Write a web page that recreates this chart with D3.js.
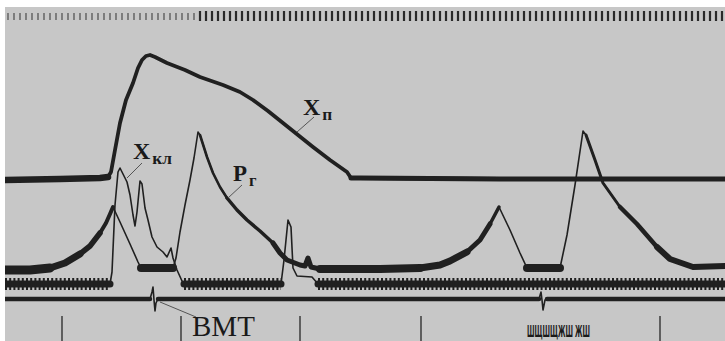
<!DOCTYPE html>
<html>
<head>
<meta charset="utf-8">
<script src="https://cdn.jsdelivr.net/npm/d3@7"></script>
<style>
  body { margin: 0; background: #fff; }
  svg { display: block; }
</style>
</head>
<body>
<svg id="chart" width="725" height="341"></svg>
<script>
// time in ms along the record
var xpT = [0, 27.5, 47.5, 51.5, 53, 55, 57.5, 60.5, 64, 66.5, 68.5, 70.5, 72.5, 75, 81, 90, 97.5, 109, 117.5, 124, 131.5, 139, 146.5, 154, 162.5, 171, 173, 177.5, 247.5, 360];
var xpV = [0, 0.8, 1.6, 2.4, 6.4, 24, 45.6, 64, 77.6, 89.6, 96, 99.2, 100, 98.4, 93.6, 88, 82.4, 76, 70.4, 64, 55.2, 45.6, 36, 26.4, 16, 6.4, 1.6, 1.6, 0.8, 0.8];

var pgT = [0, 12.5, 22.5, 30, 37.5, 42.5, 47.5, 50.5, 52.5, 54, 57.5, 62.5, 66.5, 68, 72.5, 84, 85.5, 87.5, 90, 92.5, 94.5, 96.5, 97.5, 101, 104, 107.5, 111, 116, 121, 127.5, 134, 137.5, 141, 147.5, 150, 151.5, 153, 157.5, 187.5, 207.5, 217.5, 222.5, 231, 237.5, 242.5, 247, 252.5, 257.5, 261, 270, 277.5, 281, 285, 289, 290.5, 295, 299, 307.5, 316, 326, 332.5, 344, 360];
var pgV = [0, 0, 2, 7, 16, 24, 37, 47, 56, 63, 48, 26, 8, 2, 2, 2, 12, 38, 65, 90, 112, 138, 135, 113, 97, 83, 72, 60, 50, 39, 27, 17, 10, 5, 4, 12, 3, 1, 1, 2, 5, 9, 18, 30, 46, 63, 40, 17, 2, 2, 2, 35, 85, 139, 135, 110, 87, 63, 46, 23, 11, 3, 4];

var xklT = [0, 52.5, 53.5, 55, 56.5, 57.5, 59, 61, 62.5, 64, 65, 66, 67.5, 68.5, 70, 71.5, 73.5, 76, 79, 81, 83, 84, 86, 88.5, 89.5, 138, 139.5, 141.5, 143, 144, 146, 153.5, 156.5, 360];
var xklV = [0, 0, 12, 79, 112, 116, 110, 102, 89, 69, 58, 72, 103, 100, 76, 64, 47, 37, 32, 27, 36, 26, 14, 3, 0, 0, 24, 64, 57, 16, 8, 7, 0, 0];

var vmtT = [0, 72.5, 73.5, 74, 74.5, 75, 75.5, 76.5, 267, 268, 268.5, 269, 270, 271, 360];
var vmtV = [0, 0, 7, 12, -1, -12, -4, 0, 0, 7, -1, -11, -1, 0, 0];

// crank angle marks at the bottom
var crankMarks = [28.5, 88, 147.5, 208, 327.5];
// timer marks on the top track
var timerStep = 3;

function zip(t, v) { return t.map(function(d, i) { return {t: d, v: v[i]}; }); }
var xp = zip(xpT, xpV), pg = zip(pgT, pgV), xkl = zip(xklT, xklV), vmt = zip(vmtT, vmtV);

var svg = d3.select("#chart");
var ink = "#202020";

// paper
svg.append("clipPath").attr("id", "paper")
  .append("rect").attr("x", 5).attr("y", 7).attr("width", 720).attr("height", 334);
svg.append("rect").attr("x", 5).attr("y", 7).attr("width", 720).attr("height", 334).attr("fill", "#c7c7c7");
var plot = svg.append("g").attr("clip-path", "url(#paper)");

var x = d3.scaleLinear().domain([0, 360]).range([5, 725]);
var yXp = d3.scaleLinear().domain([0, 100]).range([180, 55]);
var yPg = d3.scaleLinear().domain([0, 140]).range([270, 130]);
var yXkl = d3.scaleLinear().domain([0, 120]).range([284, 164]);
var yVmt = d3.scaleLinear().domain([-15, 15]).range([314, 284]);

function lineFor(y) {
    return d3.line().x(function(d) { return x(d.t); }).y(function(d) { return y(d.v); });
}
function win(data, a, b) { return data.filter(function(d) { return d.t >= a && d.t <= b; }); }

function trace(data, y, w, extra) {
    var p = plot.append("path").datum(data)
        .attr("fill", "none").attr("stroke", ink)
        .attr("stroke-width", w)
        .attr("stroke-linejoin", "round")
        .attr("stroke-linecap", "round")
        .attr("d", lineFor(y));
    if (extra) extra(p);
    return p;
}

// top timer track
var timer = d3.range(1.5, 360, timerStep);
plot.append("g").selectAll("line").data(timer).enter().append("line")
    .attr("x1", function(d) { return x(d); }).attr("x2", function(d) { return x(d); })
    .attr("y1", function(d) { return d < 95 ? 13 : 11; })
    .attr("y2", function(d) { return d < 95 ? 20 : 21; })
    .attr("stroke", function(d) { return d < 95 ? "#6a6a6a" : "#2a2a2a"; })
    .attr("stroke-width", function(d) { return d < 95 ? 1.6 : 2.2; });

// X_п
trace(xp, yXp, 3.8);
trace(win(xp, 0, 51.5), yXp, 6.5);
trace(win(xp, 173, 360), yXp, 5);

// X_кл with ripple on its rest level
trace(xkl, yXkl, 1.6);
[[0, 52.5], [89.5, 138], [156.5, 360]].forEach(function(r) {
    trace(win(xkl, r[0], r[1]), yXkl, 7);
    trace(win(xkl, r[0], r[1]), yXkl, 12, function(p) { p.attr("stroke-dasharray", "2 2.2").attr("stroke-linecap", "butt"); });
});

// P_г, thicker where the beam moved slowly
trace(pg, yPg, 1.6);
[[0, 22.5, 9], [22.5, 37.5, 7], [37.5, 47.5, 5.5], [47.5, 54, 4], [68, 84, 8], [97.5, 111, 2.6], [111, 134, 3.5], [134, 157.5, 5],
 [157.5, 207.5, 8], [207.5, 231, 7], [231, 242.5, 5], [242.5, 247, 3.5], [261, 277.5, 8], [290.5, 307.5, 3], [307.5, 326, 4.5], [326, 360, 6]]
    .forEach(function(r) { trace(win(pg, r[0], r[1]), yPg, r[2]); });

// ВМТ
trace(vmt, yVmt, 1.6);
trace(win(vmt, 0, 72.5), yVmt, 4.5);
trace(win(vmt, 76.5, 267), yVmt, 4.5);
trace(win(vmt, 271, 360), yVmt, 4.5);

// crank marks
plot.append("g").selectAll("line").data(crankMarks).enter().append("line")
    .attr("x1", function(d) { return x(d); }).attr("x2", function(d) { return x(d); })
    .attr("y1", 316).attr("y2", 341)
    .attr("stroke", "#333").attr("stroke-width", 1.4);

// smudged stamp near the bottom
svg.append("text").attr("x", 527).attr("y", 337)
    .attr("font-family", "DejaVu Sans").attr("font-weight", "bold").attr("font-size", 15)
    .attr("textLength", 63).attr("lengthAdjust", "spacingAndGlyphs")
    .attr("fill", "#1a1a1a").text("ШЩШЩЖШ ЖШ");

// labels with leader lines
var leaders = [[297, 132, 314, 117], [127, 178, 142, 163], [228, 198, 242, 185], [160, 302, 196, 317]];
svg.append("g").selectAll("line").data(leaders).enter().append("line")
    .attr("x1", function(d) { return d[0]; }).attr("y1", function(d) { return d[1]; })
    .attr("x2", function(d) { return d[2]; }).attr("y2", function(d) { return d[3]; })
    .attr("stroke", "#555").attr("stroke-width", 1);

function label(px, py, main, sub, size) {
    var t = svg.append("text").attr("x", px).attr("y", py)
        .attr("font-family", "Liberation Serif").attr("font-weight", "bold")
        .attr("font-size", size).attr("fill", "#1a1a1a");
    t.append("tspan").text(main);
    t.append("tspan").attr("font-size", size * 0.72).attr("dx", 2).attr("dy", 5).text(sub);
}
label(303, 115, "X", "п", 24);
label(133, 159, "X", "кл", 24);
label(233, 181, "P", "г", 23);

svg.append("text").attr("x", 192).attr("y", 336)
    .attr("font-family", "Liberation Serif").attr("font-size", 29)
    .attr("fill", "#1a1a1a").text("ВМТ");
</script>
</body>
</html>
